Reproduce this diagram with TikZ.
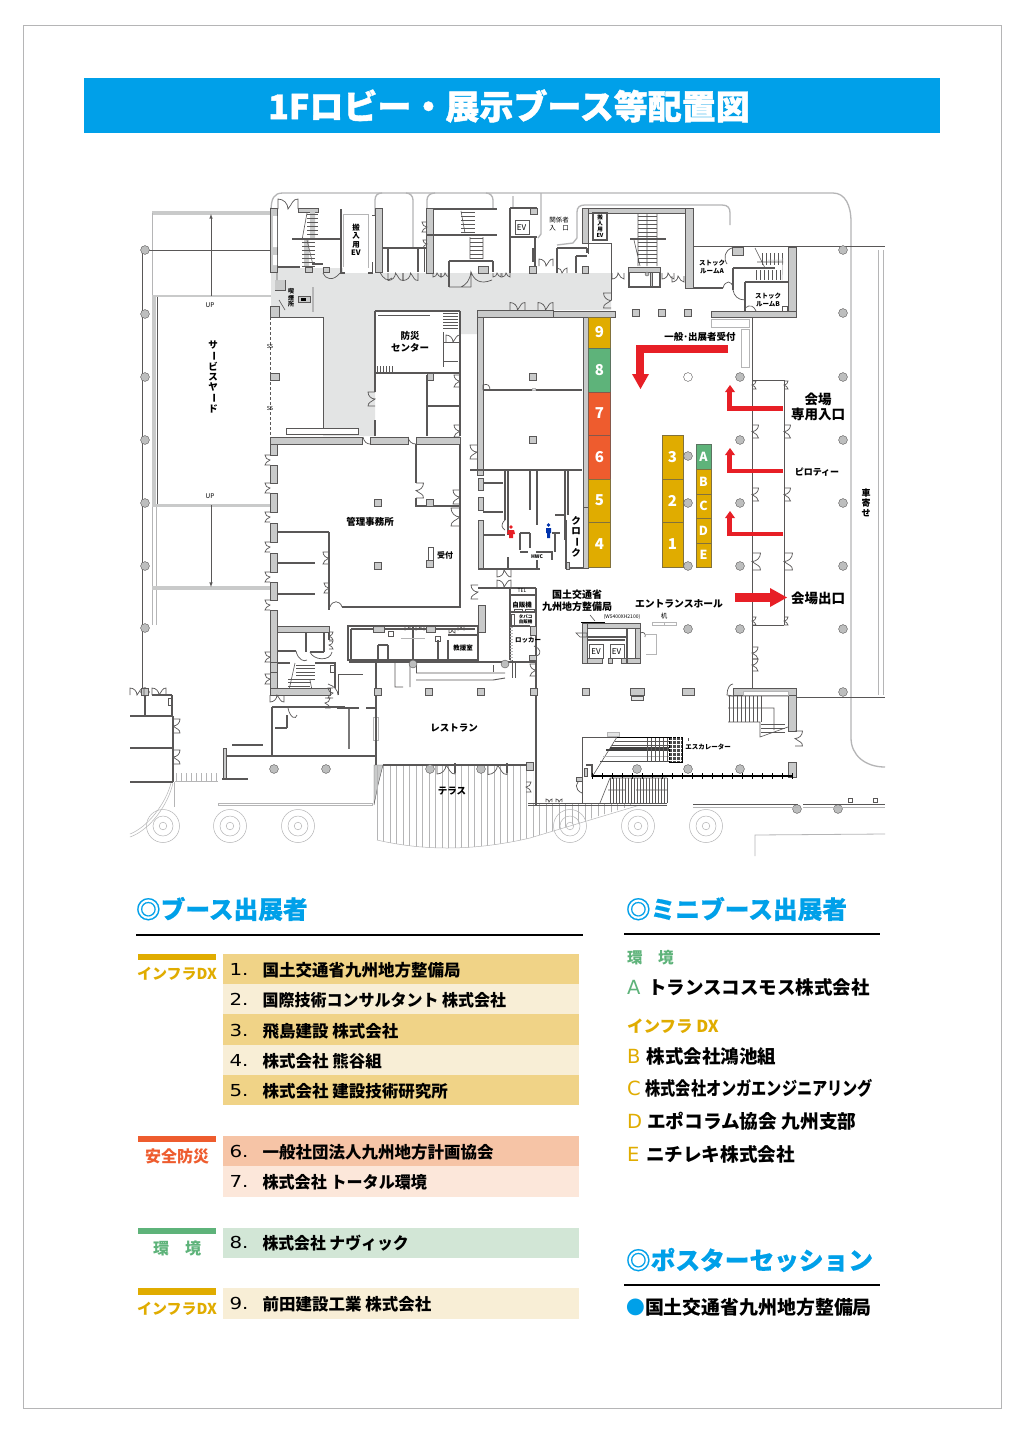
\documentclass[tikz,border=0pt]{standalone}
\usepackage{fontspec}
\setmainfont{Noto Sans CJK JP}
\newfontfamily\widef{DejaVu Sans}
\newfontfamily\heavyf{Noto Sans CJK JP}[BoldFeatures={FakeBold=1.2}]
\newfontfamily\headf{Noto Sans CJK JP}[BoldFeatures={FakeBold=.5}]
\definecolor{cyanB}{HTML}{00A0E9}
\definecolor{dxO}{HTML}{E0AC00}
\definecolor{safeO}{HTML}{EE5C2E}
\definecolor{envG}{HTML}{5EB37A}
\definecolor{rowA}{HTML}{F0D387}
\definecolor{rowB}{HTML}{F8EED6}
\definecolor{rowC}{HTML}{F6C4A6}
\definecolor{rowD}{HTML}{FCE7DA}
\definecolor{rowE}{HTML}{D2E6D6}
\definecolor{wallC}{HTML}{C9CACA}
\definecolor{lineC}{HTML}{595757}
\definecolor{lobby}{HTML}{E3E4E4}
\definecolor{redA}{HTML}{E71F26}
\definecolor{lightL}{HTML}{B5B5B6}
\definecolor{colC}{HTML}{BDBEBE}
\tikzset{
 wallf/.style={fill=wallC,draw=lineC,line width=.4pt},
 lnA/.style={draw=lineC,line width=1.3pt},
 lnB/.style={draw=lineC,line width=.6pt},
 lnL/.style={draw=lightL,line width=1.3pt},
 lnT/.style={draw=lightL,line width=.5pt},
 doorln/.style={draw=lineC,line width=.7pt},
 colf/.style={fill=colC,draw=lineC,line width=.4pt},
 txt/.style={inner sep=0pt,outer sep=0pt,text=black,align=center},
 redfill/.style={fill=redA,draw=none},
}
\newcommand\Wa[4]{\path[wallf] (#1,#2) rectangle (#3,#4);}
\newcommand\Co[2]{\path[colf] (#1,#2) circle (4.4);}
\newcommand\Sq[2]{\path[wallf] (#1-3.6,#2-3.6) rectangle (#1+3.6,#2+3.6);}
% vertical opening: x, y top, side, r
\newcommand\DoorV[4]{\draw[doorln] (#1,#2) -- ({#1+#3*#4},#2) .. controls ({#1+#3*#4},{#2+.55*#4}) and ({#1+.55*#3*#4},{#2+#4}) .. (#1,{#2+#4}) .. controls ({#1+.55*#3*#4},{#2+#4*1.45}) and ({#1+#3*#4},{#2+#4*2-.55*#4}) .. ({#1+#3*#4},{#2+2*#4}) -- (#1,{#2+2*#4});}
% horizontal opening: x left, y, side, r
\newcommand\DoorH[4]{\draw[doorln] (#1,#2) -- (#1,{#2+#3*#4}) .. controls ({#1+.55*#4},{#2+#3*#4}) and ({#1+#4},{#2+.55*#3*#4}) .. ({#1+#4},#2) .. controls ({#1+#4*1.45},{#2+.55*#3*#4}) and ({#1+#4*2-.55*#4},{#2+#3*#4}) .. ({#1+2*#4},{#2+#3*#4}) -- ({#1+2*#4},#2);}
\newcommand\TreeC[2]{\draw[lnT] (#1,#2) circle (16.5) (#1,#2) circle (10) (#1,#2) circle (3.8);}
\newcommand\La[5]{\node[txt,font=\fontsize{#4}{#4}\selectfont] (#1) at (#2,#3) {#5};}
\newcommand\LaB[5]{\node[txt,font=\fontsize{#4}{#4}\selectfont\bfseries] (#1) at (#2,#3) {#5};}
\newcommand\Lw[5]{\node[txt,anchor=west,font=\fontsize{#4}{#4}\selectfont\bfseries] (#1) at (#2,#3) {#5};}
\newcommand\LtrM[5]{\node[txt,anchor=west,font=\fontsize{19.5}{19.5}\selectfont\widef] (#1) at (#2,#3) {\textcolor{#4}{#5}};}
\newcommand\Hd[4]{\node[txt,anchor=west,text=cyanB,font=\fontsize{24.7}{24.7}\selectfont\headf\bfseries] (#1) at (#2,#3) {#4};}
\newcommand\Cb{\rotatebox[origin=c]{-90}{ー}}
\begin{document}
\begin{tikzpicture}[x=1pt,y=-1pt]
\useasboundingbox (0,0) rectangle (1024,1432);
\fill[white] (0,0) rectangle (1024,1432);
\draw[lightL,line width=.6pt] (23,25) rectangle (1001,1408);
\fill[cyanB] (84,78) rectangle (940,133);
\node[txt,text=white,font=\fontsize{34}{34}\selectfont\heavyf\bfseries] (title) at (509,106) {1Fロビー・展示ブース等配置図};

%%%% PLAN
% lobby grey
\fill[lobby] (271,268) -- (343,268) -- (343,273) -- (611,273) -- (611,310) -- (477,310) -- (477,334) -- (460,334) -- (460,311) -- (375,311) -- (375,436) -- (323,436) -- (323,317) -- (271,317) -- cycle;
% site outlines
\draw[lnL] (271,212) .. controls (271,198) and (274,193) .. (283,193) -- (833,193) .. controls (845,193) and (851,205) .. (851,222) -- (851,738) .. controls (851,755) and (865,767) .. (885,767);
\draw[lnL] (375,247) -- (375,200) .. controls (375,195) and (378,193) .. (382,193) (413,247) -- (413,200) .. controls (413,196) and (410,193) .. (406,193);
\draw[lnL] (427,208) -- (427,200) .. controls (427,196) and (430,193) .. (435,193) (493,208) -- (493,200) .. controls (493,196) and (490,193) .. (486,193);
\draw[lnL] (513,208) -- (513,196) (541,193) -- (541,234) -- (538,238);
\draw[lnL] (557,245) -- (573,243) -- (577,238) -- (577,212) .. controls (577,207) and (580,205) .. (585,205) -- (722,205) .. controls (728,205) and (730,208) .. (730,213) -- (730,225);
\draw[lnB] (692,246) -- (885,246) (795,697) -- (885,697);
\draw[lnL,line width=.9pt] (878,250) -- (878,695) (883,250) -- (883,695);
% service yard
\fill[wallC] (152,211) rectangle (271,215);
\draw[lnT,line width=.9pt] (152,213) -- (152,625) (156,505) -- (156,625);
\fill[wallC] (152,296) rectangle (156,505);
\draw[lnB] (157,296) -- (157,505);
\fill[wallC] (152,295) rectangle (271,297);
\fill[wallC] (152,504) rectangle (271,506.5);
\fill[wallC] (152,586) rectangle (271,590);
\draw[lnB] (145,250) -- (271,250) (142,250) -- (142,692);
\draw[lnB,-latex] (211,296) -- (211,214);
\draw[lnB,-latex] (211,505) -- (211,587);
\foreach \yy in {250,314,377,440,503,566,628,692} {\Co{145}{\yy}}
\La{up1}{210}{305}{6.5}{UP}
\La{up2}{210}{496}{6.5}{UP}
\LaB{yard}{213}{377}{9.5}{サ\\[.5pt]\Cb\\[.5pt]ビ\\[.5pt]ス\\[.5pt]ヤ\\[.5pt]\Cb\\[.5pt]ド}
\draw[lnB,densely dashed,line width=.4pt] (270,317) -- (270,437);
\La{ss1}{270}{346}{5.5}{SS}
\La{ss2}{270}{408}{5.5}{SS}
\Wa{270}{373}{279}{380}
\draw[lnB] (279,317) -- (323,317) -- (323,428);
\path[draw=lineC,fill=white,line width=.5pt] (286,428) rectangle (358,434);
% top-left stair block
\Wa{270}{208}{277}{272}
\fill[white] (273,216) rectangle (277,247) (273,255) rectangle (277,265);
\DoorH{278}{209}{-1}{10}
\Wa{298}{208}{318}{212}
\fill[wallC] (310,212) rectangle (315,238) (304,240) rectangle (309,266);
\foreach \yy in {214,218,...,238} {\draw[lnB,line width=.35pt] (307,\yy) -- (318,\yy);}
\foreach \yy in {242,246,...,266} {\draw[lnB,line width=.35pt] (302,\yy) -- (315,\yy);}
\draw[lnB] (307,213) -- (302,240) (307,240) -- (313,265);
\draw[lnA] (292,239) -- (341,239);
\draw[lnA] (277,267) -- (300,267) (312,264) -- (323,264);
\Wa{305}{267}{312}{272} \Wa{323}{267}{329}{272}
\draw[doorln] (323,273) .. controls (325,279) and (333,282) .. (340,273);
\draw[lnA] (341,209) -- (341,272);
\draw[lnT,line width=1pt,fill=white] (343,214) rectangle (368,267);
\fill[white] (343,267) rectangle (368,273);
\Wa{340}{272}{344}{273} \Wa{368}{272}{372}{273}
\Wa{375}{208}{382}{272}
\fill[white] (372,216) rectangle (375,262);
\draw[lnB] (372,215) -- (375,215) (372,262) -- (372,272);
\LaB{evA}{356}{240}{7.5}{搬\\[1pt]入\\[1pt]用\\[1pt]EV}
% upper rooms along corridor
\draw[lnA] (382,248) -- (432,248);
\draw[lnA,line width=1.6pt] (388,248) -- (388,272) (418,248) -- (418,272);
\draw[lnB] (418,248) -- (432,248) (424,248) -- (424,272);
\Wa{426}{208}{433}{273}
\DoorH{388}{273}{1}{7.5}
\DoorH{403}{273}{1}{7.5}
\draw[doorln] (380,272) .. controls (383,279) and (388,282) .. (392,278);
\DoorV{427}{222}{-1}{5}
\DoorV{427}{240}{-1}{4}
\draw[lnA] (433,209) -- (497,209) (427,235) -- (497,235);
\foreach \yy in {212,216,...,232} {\draw[lnB,line width=.35pt] (461,\yy) -- (475,\yy);}
\foreach \yy in {238,242,...,258} {\draw[lnB,line width=.35pt] (470,\yy) -- (483,\yy);}
\draw[lnB] (461,211) -- (465,233) (470,237) -- (470,259) (483,237) -- (483,259);
\draw[lnA] (449,261) -- (493,261) (449,261) -- (449,287) (493,261) -- (493,272);
\draw[doorln] (449,287) -- (471,287) (471,272) .. controls (470,280) and (466,285) .. (461,287);
\draw[doorln] (471,287) -- (471,272) .. controls (474,280) and (480,285) .. (492,280);
\Wa{478}{266}{488}{273}
\DoorH{433}{273}{1}{4}
\DoorH{441}{273}{1}{4}
\DoorH{493}{273}{1}{4}
\DoorH{502}{273}{1}{4}
% EV room
\draw[lnA] (510,208) -- (537,208) (510,208) -- (510,273) (535,237) -- (535,273);
\Wa{530}{208}{537}{214}
\draw[lnA] (510,237) -- (537,237);
\draw[lnB] (515,220) rectangle (529,234);
\La{evB}{521.5}{228}{8}{EV}
\draw[lnA] (533,248) -- (533,262);
\Wa{529}{266}{536}{273}
\DoorH{539}{266}{-1}{7}
\La{kankei}{559}{224}{6.5}{関係者\\[1pt]入　口}
% centre top
\draw[lnA] (557,248) -- (587,248) (557,248) -- (557,273) (587,248) -- (587,253) (576,256) -- (587,256) (576,256) -- (576,273);
\Wa{582}{266}{588}{273}
\DoorH{557}{273}{-1}{5}
\Wa{582}{208}{692}{213}
\Wa{582}{208}{588}{243}
\Wa{685}{208}{693}{288}
\draw[lnA,fill=white] (593,213) rectangle (607,240);
\LaB{evC}{600}{226.5}{5.5}{搬\\[.5pt]入\\[.5pt]用\\[.5pt]EV}
\draw[lnB,line width=1pt] (588,243) -- (611,243) -- (611,300) (588,243) -- (588,254);
\draw[lnB] (638,213) -- (638,266) (657,213) -- (657,266) (647,213) -- (647,266) (634,240) -- (640,266);
\foreach \yy in {216,220,...,236} {\draw[lnB,line width=.35pt] (638,\yy) -- (657,\yy);}
\foreach \yy in {242,246,...,264} {\draw[lnB,line width=.35pt] (638,\yy) -- (657,\yy);}
\draw[lnA] (630,239) -- (666,239);
\Wa{628}{267}{660}{272}
\Wa{650}{272}{652}{287}
\draw[lnA] (629,272) -- (629,287) -- (660,287) -- (660,272);
\path[colf] (647,274) circle (2);
\DoorH{612}{273}{1}{6}
\DoorH{662}{273}{1}{6}
\DoorH{672}{276}{1}{6}
\DoorV{611}{293}{-1}{7.5}
% stock rooms
\draw[lnA] (693,288) -- (723,288) (733,268) -- (733,290) (733,268) -- (775,268) (745,282) -- (745,311) (745,282) -- (788,282);
\Wa{788}{247}{796}{317}
\Wa{711}{311}{796}{317}
\Wa{553}{311}{615}{317}
\Wa{732}{247}{743}{255}
\draw[doorln] (732,248) .. controls (725,250) and (723,258) .. (727,264);
\draw[doorln] (723,288) .. controls (725,280) and (732,280) .. (733,288);
\draw[doorln] (733,290) .. controls (734,296) and (738,300) .. (745,300);
\draw[doorln] (745,308) .. controls (750,304) and (754,306) .. (756,311);
\foreach \xx in {762,766,...,782} {\draw[lnB,line width=.35pt] (\xx,253) -- (\xx,265);}
\foreach \xx in {756,760,...,780} {\draw[lnB,line width=.35pt] (\xx,270) -- (\xx,280);}
\draw[lnB] (755,248) -- (765,268) (757,262) -- (783,262);
\draw[lnT] (783,258) -- (782,280) (768,260) -- (782,260);
\LaB{stA}{712}{267}{6.5}{ストック\\[1pt]ルームA}
\LaB{stB}{768}{300}{6.5}{ストック\\[1pt]ルームB}
\draw[lnB] (782,306) rectangle (787,311);
% corridor pillars
\Sq{636}{313} \Sq{662}{313} \Sq{688}{313}
\draw[lnT,line width=.9pt,fill=white] (711,319) rectangle (749,327) (741,329) rectangle (749,367);
\draw[lnA,line width=1pt] (752,317) -- (752,380) -- (784,380);
\LaB{recep}{700}{337}{9.5}{一般･出展者受付}
% bosai
\draw[lnA] (375,311) -- (460,311) (375,311) -- (375,392) (375,420) -- (375,436) (375,373) -- (460,373) (460,311) -- (460,436);
\draw[lnB] (378,315) -- (430,315);
\foreach \yy in {313,316,...,328} {\draw[lnB,line width=.35pt] (443,\yy) -- (458,\yy);}
\draw[lnA,line width=1pt] (443,332) -- (443,367) (443,342) -- (460,342) (443,361) -- (458,361);
\foreach \xx in {377,380,...,392} {\draw[lnB,line width=.35pt] (\xx,366) -- (\xx,373);}
\DoorH{446}{342}{-1}{7}
\DoorV{375}{392}{-1}{7}
\Wa{427}{373}{433}{380}
\draw[lnA] (427,375) -- (427,436) (427,406) -- (460,406);
\DoorV{460}{375}{-1}{6}
\DoorV{460}{425}{-1}{6}
\LaB{bosai}{410}{342}{9.5}{防災\\[2.5pt]センター}
% wall above office
\Wa{270}{437}{362}{444}
\Wa{370}{437}{408}{444}
\Wa{416}{437}{460}{444}
\draw[doorln] (363,437) .. controls (364,442) and (367,444) .. (370,444);
\draw[doorln] (408,437) .. controls (409,442) and (412,444) .. (416,444);
% office left wall
\Wa{270}{444}{277}{455}
\foreach \ua/\ub in {465/483,493/512,523/542,553/572,582/600} {\Wa{270}{\ua}{277}{\ub}}
\Wa{270}{610}{277}{692}
\foreach \yy in {455,483,512,542,572,600} {\DoorV{270}{\yy}{-1}{5}}
\draw[lnA] (416,444) -- (416,483) (416,498) -- (416,506) -- (460,506);
\DoorV{416}{483}{1}{7.5}
\Wa{426}{499}{433}{506}
\DoorV{460}{490}{-1}{7}
\DoorV{460}{508}{-1}{9}
\Sq{378}{503} \Sq{378}{566} 
\draw[lnA,line width=1.6pt] (460,444) -- (460,607) -- (342,607);
\draw[doorln] (330,607) .. controls (332,600) and (340,600) .. (342,607);
\LaB{office}{370}{522}{9.5}{管理事務所}
\path[draw=lineC,fill=white,line width=.5pt] (428,547) rectangle (433,560);
\Wa{426}{560}{433}{567}
\LaB{uke}{445}{555}{8}{受付}
% office small rooms
\draw[lnA] (277,532) -- (329,532) (329,532) -- (329,610) (277,563) -- (315,563) (277,594) -- (315,594);
\DoorV{329}{552}{-1}{6}
\DoorV{329}{583}{-1}{5}
\Wa{277}{626}{329}{632}
\draw[lnA] (306,632) -- (306,652) (324,632) -- (324,652) (329,632) -- (329,640) (277,651) -- (296,651) (310,652) -- (324,652);
\DoorV{329}{632}{1}{4}
\DoorV{329}{641}{1}{4}
\DoorV{270}{652}{-1}{5}
\DoorV{270}{674}{-1}{5}
\draw[doorln] (296,651) .. controls (298,660) and (304,662) .. (307,660);
\draw[doorln] (310,652) .. controls (313,660) and (330,662) .. (332,652);
% stairs left
\foreach \yy in {665,668.5,...,680} {\draw[lnB,line width=.35pt] (296,\yy) -- (315,\yy);}
\foreach \yy in {679,682.5,...,690} {\draw[lnB,line width=.35pt] (288,\yy) -- (310,\yy);}
\draw[lnB] (295,663) -- (289,690) (310,680) -- (312,690);
\Wa{270}{688}{330}{695}
\draw[lnA] (277,663) -- (290,663) (315,663) -- (335,663) -- (335,688);
\path[draw=lineC,fill=white,line width=.4pt] (330,665) rectangle (334,672);
\Wa{270}{662}{277}{672}
\DoorH{270}{695}{1}{7}
\DoorV{333}{688}{-1}{5}
\DoorV{325}{698}{1}{5}
\draw[lnA] (272,707) -- (345,707) (272,707) -- (272,756) (275,728) -- (287,728) (287,715) -- (287,728);
\draw[doorln] (288,708) .. controls (290,718) and (296,720) .. (297,715);
\draw[lnA,line width=1pt] (338,674) -- (363,674) (338,674) -- (338,695);
\draw[doorln] (328,684) .. controls (334,686) and (338,690) .. (338,695);
\draw[lnL,draw=lineC!80,line width=1.4pt] (349,708) -- (349,749);
\draw[lnA] (337,708) -- (359,708) (366,708) -- (376,708);
\draw[lnT,fill=white,line width=.9pt,draw=lightL] (373.5,717) rectangle (378,740);
% bottom of left yard
\draw[lnA] (226,756) -- (376,756);
\Wa{223}{748}{226}{778}
\draw[lnA] (222,779) -- (248,779) (232,745) -- (263,745);
\Co{274}{769} \Co{326}{769}
\draw[lnL,line width=.8pt] (218,803) rectangle (372,805.5);
\path[wallf] (374,765) -- (383,765) -- (378,785) -- (374,805) -- cycle;
% left lower building
\Wa{141}{688}{148}{695}
\DoorH{130}{695}{-1}{7}
\DoorH{152}{695}{-1}{7}
\draw[lnA] (145,695) -- (145,716) (172,695) -- (172,716) (152,695) -- (172,695) (130,716) -- (173,716) (173,716) -- (173,782) (130,748) -- (173,748) (130,782) -- (173,782);
\draw[lnB] (168,698) rectangle (172,705);
\DoorV{173}{719}{1}{7}
\DoorV{173}{750}{1}{7}
\foreach \xx in {176,181,...,216} {\draw[lnT] (\xx,773) -- (\xx,781);}
\draw[lnT] (175,781) -- (218,781);
\draw[lnL,line width=.5pt] (173,783) .. controls (168,805) and (150,830) .. (130,837) (171,783) .. controls (166,803) and (148,827) .. (130,834);
\draw[lnT] (174,782) -- (174,807);
\foreach \ua/\ub in {163/826,230/826,298/826,570/826,638/826,706/826} {\TreeC{\ua}{\ub}}
% restaurant
\draw[lnA,line width=1.4pt] (376,660) -- (376,765);
\draw[lnA] (348,626) rectangle (478,660);
\draw[lnA] (351,629) -- (475,629) (351,629) -- (351,660);
\draw[lnA,line width=1.4pt] (349,662) -- (536,662) (536,662) -- (536,805);
\Wa{373}{626}{384}{632} \Wa{426}{626}{435}{632} 
\draw[lnA] (378,645) -- (378,660) (388,645) -- (388,660) (378,645) -- (388,645) (438,640) -- (438,660) (448,640) -- (448,660) (448,635) -- (478,635) (478,626) -- (478,660);
\draw[lnA,line width=1.8pt] (413,626) -- (413,660);
\draw[lnL,line width=.9pt] (401,638) -- (425,638);
\draw[lnB] (388,631) rectangle (393,636) (435,636) rectangle (440,641);
\DoorH{405}{626}{1}{4}
\DoorH{416}{626}{1}{4}
\DoorH{449}{630}{1}{3}
\DoorH{458}{627}{1}{3}
\Wa{478}{605}{485}{632}
\LaB{kyugo}{463}{648}{6.5}{教援室}
\draw[lnA,line width=.9pt] (395,663) -- (395,687) -- (403,687) (410,663) -- (410,687) (416,673) -- (505,673) (416,680) -- (493,680) -- (505,678);
\draw[lnB] (416,665) -- (416,673) (493,665) -- (493,672);
\path[colf] (413,664) circle (4) (505,664) circle (4);
\Sq{378}{692} \Sq{429}{692} \Sq{481}{692} \Sq{586}{692}
\Wa{630}{688}{644}{695} \path[draw=lineC,line width=.4pt,fill=lobby] (631,696) rectangle (643,700);
\Wa{682}{688}{694}{695}
\LaB{rest}{454}{728}{9.5}{レストラン}
% terrace
\begin{scope}
\clip (377,765) -- (533,765) -- (533,803) -- (640,803) -- (530,838) .. controls (470,852) and (420,850) .. (377,840) -- cycle;
\foreach \xx in {377,383.5,...,640} {\draw[lnT] (\xx,760) -- (\xx,855);}
\end{scope}
\draw[lnT] (640,805) -- (530,838) .. controls (470,852) and (420,850) .. (377,840);
\draw[lnA,line width=1.5pt] (383,765) -- (437,765);
\Co{430}{769} \Co{481}{769}
\DoorH{437}{765}{1}{9}
\DoorH{488}{765}{1}{9.5}
\draw[lnA] (455,763) -- (455,773) (507,763) -- (507,773) (437,765) -- (533,765);
\LaB{ter}{452}{791}{9.5}{テラス}
\DoorV{526}{782}{1}{5}
\draw[lnB] (528,803) -- (667,803) (528,805) -- (667,805);
\DoorH{546}{802}{-1}{3}
\DoorH{556}{802}{-1}{3}
% upper rooms right of bosai
\Wa{477}{310}{483}{470}
\Wa{477}{310}{553}{317}
\DoorH{510}{310}{-1}{7.5}
\DoorH{538}{310}{-1}{7.5}
\draw[lnA] (483,390) -- (582,390);
\path[draw=lightL,fill=lobby] (532,388) rectangle (535,390);
\Sq{533}{377} \Sq{533}{440}
\draw[doorln] (483,390) -- (483,385) .. controls (488,383) and (490,386) .. (490,390);
\Wa{583}{317}{588}{507}
\DoorV{477}{445}{-1}{7}
\draw[lnA] (470,470) -- (582,470);
% toilets
\Wa{478}{478}{483}{490} \Wa{478}{497}{483}{510} \Wa{478}{520}{483}{569}
\Wa{477}{470}{483}{475}
\draw[lnA] (483,483) -- (503,483) (483,512) -- (503,512) (483,535) -- (505,535) (505,470) -- (505,520) (508,470) -- (508,535) (478,569) -- (540,569);
\draw[lnA] (530,470) -- (530,510) (537,470) -- (537,525) (565,470) -- (565,540) (568,470) -- (568,515) (555,515) -- (565,515);
\draw[lnA] (520,533) -- (520,550) (520,533) -- (530,533) (530,533) -- (530,548) (537,560) -- (537,569) (520,552) -- (528,552) (536,552) -- (552,552) -- (552,560) (508,557) -- (508,569) (552,533) -- (560,533) (555,533) -- (555,552);
\LaB{wc}{537}{557}{5}{HWC}
\draw[doorln] (505,520) .. controls (500,525) and (502,528) .. (505,530);
\fill[redA] (511,527) circle (1.8) (508,530) -- (514,530) -- (515,534) -- (513,534) -- (513,538) -- (509,538) -- (509,534) -- (507,534) -- cycle;
\fill[blue!60!black!80!cyan] (548.5,525) circle (1.8) (546,528) rectangle (551,533) (547,533) rectangle (550,538);
% cloak
\draw[lnA] (566,520) -- (566,568) -- (588,568);
\Wa{566}{562}{569}{569} \Wa{583}{507}{588}{568}
\draw[doorln] (588,514) .. controls (593,514) and (595,510) .. (595,507);
\draw[doorln] (588,560) .. controls (593,560) and (596,557) .. (596,553);
\LaB{cloak}{576}{537}{9.5}{ク\\[.5pt]ロ\\[.5pt]\Cb\\[.5pt]ク}
% booths
\foreach \nn/\ua/\ub/\uc in {9/317/348/dxO,8/348/392/envG,7/392/435/safeO,6/435/479/safeO,5/479/522/dxO,4/522/567/dxO} {
 \path[fill=\uc,draw=lineC!70!\uc,line width=.5pt] (588,\ua) rectangle (610,\ub);
 \node[txt,text=white] (b\nn) at (599.5,{(\ua+\ub)/2}) {\fontsize{15}{15}\selectfont\bfseries \nn};
}
\foreach \nn/\ua/\ub in {3/435/479,2/479/522,1/522/567} {
 \path[fill=dxO,draw=lineC!70!dxO,line width=.5pt] (662,\ua) rectangle (683.5,\ub);
 \node[txt,text=white] (b\nn) at (672.5,{(\ua+\ub)/2}) {\fontsize{15}{15}\selectfont\bfseries \nn};
}
\foreach \nn/\ua/\ub/\uc in {A/444/469/envG,B/469/494/dxO,C/494/518/dxO,D/518/543/dxO,E/543/567/dxO} {
 \path[fill=\uc,draw=lineC!70!\uc,line width=.5pt] (696,\ua) rectangle (711,\ub);
 \node[txt,text=white] (b\nn) at (703.5,{(\ua+\ub)/2}) {\fontsize{12.5}{12.5}\selectfont\bfseries \nn};
}
% columns
\foreach \ua/\ub in {688/456,688/503,688/566,688/629,740/377,740/440,740/503,740/566,740/629,843/250,843/313,843/377,843/440,843/503,843/566,843/629,843/692,637/769,688/769,740/769,797/809,838/809} {\Co{\ua}{\ub}}
\path[draw=lineC,fill=white,line width=.4pt] (688,377) circle (4.4);
% vending etc
\draw[lnA] (478,588) -- (536,588) (510,588) -- (510,660) (536,588) -- (536,662);
\Wa{478}{605}{485}{632}
\DoorV{478}{585}{-1}{7}
\DoorH{497}{570}{1}{7}
\DoorH{497}{587}{-1}{7}
\draw[lnA] (510,595) -- (536,595) (511,612) -- (536,612) (511,626) -- (530,626);
\draw[lnB] (514,609) rectangle (522,612) (525,609) rectangle (534,612) (511,614) rectangle (514,625);
\LaB{jihan}{522}{605}{6.5}{自販機}
\LaB{tbc}{525.5}{619}{4.5}{タバコ\\[.5pt]自販機}
\La{wcc}{522}{591}{5}{TEL}
\foreach \yy in {627,630,...,660} {\draw[lnT] (510,\yy) -- (513,\yy);}
\Wa{530}{626}{536}{635}
\LaB{lock}{528}{640}{6.5}{ロッカー}
\Wa{529}{655}{536}{660}
\draw[doorln] (534,646) .. controls (540,648) and (543,654) .. (536,656);
\draw[lnA,line width=1pt] (512,660) -- (512,678);
\draw[lnB] (515,661) -- (515,678);
\DoorV{536}{664}{-1}{6}
\Wa{530}{688}{537}{695}
% EV
\LaB{koku}{577}{600.5}{10}{国土交通省\\[2.5pt]九州地方整備局}
\draw[lnB] (590,615) -- (595,621);
\draw[black,line width=1pt] (581,622) -- (605,622);
\La{w54}{622}{617}{5}{(W5400XH2100)}
\LaB{ent}{679}{604}{9.8}{エントランスホール}
\La{tsukue}{664}{616}{6.5}{机}
\draw[lnT,fill=white,line width=.8pt] (652,622) rectangle (664,625) (664,622) rectangle (676,625);
\Wa{582}{623}{640}{628}
\Wa{582}{623}{587}{663}
\Wa{635}{628}{640}{663}
\path[wallf] (587,658) rectangle (602,663) (608,658) rectangle (612,663) (621,658) rectangle (640,663);
\draw[lnA] (587,637) -- (627,637) (627,628) -- (627,663) (587,640) -- (625,640);
\draw[doorln] (576,633) -- (587,633) -- (587,637) -- (580,637) -- cycle;
\draw[lnB] (589,644) rectangle (603,658) (610,644) rectangle (624,658);
\La{ev1}{596}{652}{8}{EV}
\La{ev2}{616.5}{652}{8}{EV}
\draw[doorln] (640,633) .. controls (644,631) and (646,634) .. (645,637);
\draw[lnL,line width=.9pt] (646,634) -- (656,634) -- (656,654) -- (646,654);
% entrance walls
\draw[lnA,line width=1pt] (752,380) -- (752,688) (784,380) -- (784,625) (752,625) -- (784,625);
\foreach \yy/\rr in {381/4,425/6.5,488/6.5,553/8.5,617/4} {\DoorV{752}{\yy}{1}{\rr}}
\foreach \yy/\rr in {381/4,425/6.5,488/6.5,553/8.5,617/4} {\DoorV{784}{\yy}{1}{\rr}}
\DoorV{752}{647}{1}{6}
\DoorV{752}{659}{1}{6}
% right stairs
\Wa{733}{688}{796}{695}
\Wa{788}{695}{796}{731}
\Wa{788}{762}{796}{777}
\draw[doorln] (733,696) -- (727,695) .. controls (727,688) and (730,684) .. (733,684);
\path[draw=lightL,fill=white,line width=.8pt] (743,691) rectangle (788,695);
\foreach \xx in {729,733,...,761} {\draw[lnB,line width=.35pt] (\xx,696) -- (\xx,722);}
\draw[lnB] (728,696) -- (788,696) (728,722) -- (760,722) -- (760,737) -- (788,727) (728,708) -- (774,708) -- (774,730);
\foreach \yy in {724,728,732} {\draw[lnB,line width=.35pt] (761,\yy) -- (785,\yy);}
\DoorV{795}{731}{1}{7.5}
% escalator
\draw[lnA,line width=1pt] (582,737) -- (617,737);
\draw[lnA,line width=1pt] (582,737) -- (582,803);
\draw[lnB] (617,737) -- (592,777);
\draw[black,line width=1pt] (617,737) -- (669,737);
\path[draw=lightL,fill=lobby,line width=.5pt] (607,732) rectangle (619,736);
\draw[black!75,line width=1.3pt] (610,748) -- (669,748) (606,750) -- (669,750);
\draw[lnB] (615,741) -- (669,741) (612,745) -- (669,745);
\draw[lnL,line width=1pt] (603,756) -- (669,756);
\draw[black!70,line width=.8pt] (600,761) -- (669,761);
\foreach \xx in {647,651,...,667} {\draw[lnB,line width=.35pt] (\xx,738) -- (\xx,762);}
\fill[black!70,draw=black] (669,737) rectangle (682,762);
\foreach \yy in {740,744,...,760} {\draw[white,line width=.3pt] (669,\yy) -- (682,\yy);}
\foreach \xx in {672,676,680} {\draw[white,line width=.3pt] (\xx,737) -- (\xx,762);}
\LaB{esc}{708}{747}{6.5}{エスカレーター}
\draw[lnB] (688,738) -- (688,741);
\draw[lnA] (586,765) -- (592,765) -- (592,777);
\Wa{584}{768}{587}{776}
\draw[black,line width=1.1pt] (592,776) -- (793,776);
\foreach \xx in {592,602,...,792} {\draw[black,line width=.4pt] (\xx,773) -- (\xx,779);}
\draw[doorln] (582,780) .. controls (575,781) and (574,790) .. (582,793);
\Wa{576}{777}{582}{781}
\foreach \xx in {610,613,...,640} {\draw[lnB,line width=.35pt] (\xx,778) -- (\xx,803);}
\foreach \xx in {637,640,...,667} {\draw[lnB,line width=.35pt] (\xx,778) -- (\xx,803);}
\draw[lnB] (610,778) -- (600,803) (636,790) -- (667,790) (608,790) -- (625,790) (610,778) -- (667,778);
\draw[lnB,line width=1pt] (693,804) -- (798,804) (803,804) -- (885,804);
\draw[lnT,line width=.8pt] (693,807) -- (798,807) (803,807) -- (885,807);
\draw[lnB,line width=.35pt] (848,798) rectangle (852,802) (873,798) rectangle (877,802);
\draw[lnT,line width=.8pt] (755,856) -- (755,835) -- (885,834);
\Wa{526}{762}{533}{770}
% red arrows
\draw[redA,line width=8pt] (728,349) -- (640,349) -- (640,376);
\path[redfill] (632,374) -- (649,374) -- (640.5,389) -- cycle;
\draw[redA,line width=4.3pt] (783,408.5) -- (729.5,408.5) -- (729.5,392);
\path[redfill] (725,392) -- (735,392) -- (730,385) -- cycle;
\draw[redA,line width=4.3pt] (783,471) -- (729.5,471) -- (729.5,455);
\path[redfill] (725,455) -- (735,455) -- (730,448) -- cycle;
\draw[redA,line width=4.3pt] (783,534) -- (729.5,534) -- (729.5,518);
\path[redfill] (725,518) -- (735,518) -- (730,511) -- cycle;
\draw[redA,line width=9.5pt] (735,597.5) -- (771,597.5);
\path[redfill] (770,588) -- (787,597.5) -- (770,607) -- cycle;
\LaB{hall}{818}{407}{13.5}{会場\\[1.5pt]専用入口}
\LaB{pil}{817}{472}{9}{ピロティー}
\LaB{out}{818}{598}{13.5}{会場出口}
\LaB{kuru}{866}{503}{9}{車\\[1pt]寄\\[1pt]せ}
\LaB{kitsu}{291}{298}{6}{喫\\[.5pt]煙\\[.5pt]所}
\path[draw=lineC,line width=.5pt,fill=white] (275,280) rectangle (285,290);
\fill[wallC] (275,280) rectangle (285,290);
\draw[lnL,line width=1.3pt] (313,287) -- (313,312);
\draw[lnB,fill=wallC] (298,296) rectangle (310,302);
\fill[black] (301,297.5) rectangle (306,300.5);
\Wa{270}{306}{279}{317}
\draw[lnB] (277,272) -- (277,280) (279,300) -- (285,310);

%%%% LISTS
\Hd{h1}{136}{909}{◎ブース出展者}
\draw[black,line width=1.6pt] (136,935) -- (583,935);
\Hd{h2}{626}{909}{◎ミニブース出展者}
\draw[black,line width=1.6pt] (624,934) -- (880,934);
\Hd{h3}{626}{1260}{◎ポスターセッション}
\draw[black,line width=1.6pt] (624,1285) -- (880,1285);
% rows
\fill[rowA] (223,954) rectangle (579,984);
\fill[rowB] (223,984) rectangle (579,1014);
\fill[rowA] (223,1014) rectangle (579,1045);
\fill[rowB] (223,1045) rectangle (579,1075);
\fill[rowA] (223,1075) rectangle (579,1105);
\fill[rowC] (223,1136) rectangle (579,1166);
\fill[rowD] (223,1166) rectangle (579,1197);
\fill[rowE] (223,1228) rectangle (579,1258);
\fill[rowB] (223,1288) rectangle (579,1319);
\fill[dxO] (138,954) rectangle (216,960);
\fill[safeO] (138,1136) rectangle (216,1142);
\fill[envG] (138,1228) rectangle (216,1234);
\fill[dxO] (138,1288) rectangle (216,1295);
\LaB{g1}{177}{973.5}{15}{\textcolor{dxO}{インフラDX}}
\LaB{g2}{177}{1156}{16}{\textcolor{safeO}{安全防災}}
\LaB{g3}{177}{1248}{16}{\textcolor{envG}{環　境}}
\LaB{g4}{177}{1308.5}{15}{\textcolor{dxO}{インフラDX}}
\foreach \nn/\yy/\sx/\ttx in {1/970/1/国土交通省九州地方整備局,2/1000/.97/国際技術コンサルタント 株式会社,3/1031/1/飛島建設 株式会社,4/1061/1/株式会社 熊谷組,5/1091/1/株式会社 建設技術研究所,6/1152/1/一般社団法人九州地方計画協会,7/1182/.975/株式会社 トータル環境,8/1243/.96/株式会社 ナヴィック,9/1304/1/前田建設工業 株式会社} {
 \node[txt,anchor=west] (n\nn) at (229.5,{\yy-.5}) {\scalebox{1.2}[1]{\fontsize{16.5}{16.5}\selectfont\widef \nn.}};
 \node[txt,anchor=west] (m\nn) at (262.5,\yy) {\scalebox{\sx}[1]{\fontsize{16.5}{16.5}\selectfont\bfseries \ttx}};
}
% minibooth
\Lw{e1}{627}{958}{15.5}{\textcolor{envG}{環　境}}
\LtrM{mA}{627}{987}{envG}{A}
\Lw{tA}{648}{987.5}{18.5}{トランスコスモス株式会社}
\Lw{e2}{627}{1026.5}{16.5}{\textcolor{dxO}{インフラ DX}}
\LtrM{mB}{627}{1056}{dxO}{B}
\Lw{tB}{646.5}{1056.5}{18.5}{株式会社鴻池組}
\LtrM{mC}{627}{1088}{dxO}{C}
\node[txt,anchor=west] (tC) at (645.5,1088.5) {\scalebox{.82}[1]{\fontsize{18.5}{18.5}\selectfont\bfseries 株式会社オンガエンジニアリング}};
\LtrM{mD}{627}{1121}{dxO}{D}
\Lw{tD}{647}{1121.5}{18.7}{エポコラム協会 九州支部}
\LtrM{mE}{627}{1154}{dxO}{E}
\Lw{tE}{646}{1154.5}{18.6}{ニチレキ株式会社}
\Lw{pP}{626}{1307.5}{18.7}{\textcolor{cyanB}{●}}
\Lw{pT}{645}{1307.5}{18.9}{国土交通省九州地方整備局}
\end{tikzpicture}
\end{document}
